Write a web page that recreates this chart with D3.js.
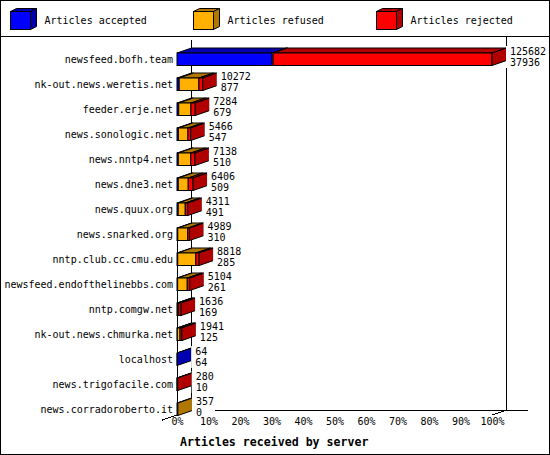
<!DOCTYPE html>
<html><head><meta charset="utf-8">
<script src="https://cdn.jsdelivr.net/npm/d3@7"></script>
<style>
body{margin:0;background:#fff}
svg{display:block}
text{font-family:"DejaVu Sans Mono",monospace;fill:#000}
</style></head><body>
<svg id="c" width="550" height="455"></svg>
<script>
const servers = ["newsfeed.bofh.team","nk-out.news.weretis.net","feeder.erje.net","news.sonologic.net","news.nntp4.net","news.dne3.net","news.quux.org","news.snarked.org","nntp.club.cc.cmu.edu","newsfeed.endofthelinebbs.com","nntp.comgw.net","nk-out.news.chmurka.net","localhost","news.trigofacile.com","news.corradoroberto.it"];
const totals   = [125682,10272,7284,5466,7138,6406,4311,4989,8818,5104,1636,1941,64,280,357];
const accepted = [37936,877,679,547,510,509,491,310,285,261,169,125,64,10,0];
const refused  = [400,7850,4880,3826,5000,3970,2800,4000,7230,3830,500,1070,0,0,357];
const rejected = [87346,1545,1725,1093,1628,1927,1020,679,1303,1013,967,746,0,270,0];
const seriesNames = ["Articles accepted","Articles refused","Articles rejected"];
const xTicks = [0,10,20,30,40,50,60,70,80,90,100];
const axisTitle = "Articles received by server";

const frontColors = ["#0000ff","#ffb000","#ff0000"];
const darkColors  = ["#0000b0","#b07800","#b00000"];

const svg = d3.select("#c");
const W = 550, H = 455;
const dx = 14.5, dy = -5;
const x = d3.scaleLinear().domain([0,100]).range([177,492]);
const y = d3.scaleBand().domain(servers).range([46,421]);
const maxTotal = d3.max(totals);
const pct = v => v / maxTotal * 100;
const barOff = 7, barH = 12.5;
const floorFront = 415, floorBack = floorFront + dy;

// frame
svg.append("rect").attr("x",0.5).attr("y",0.5).attr("width",W-1).attr("height",H-1)
  .attr("fill","#fff").attr("stroke","#000");
svg.append("line").attr("x1",0).attr("x2",W).attr("y1",36.5).attr("y2",36.5).attr("stroke","#000");

// legend
const legX = [10.5,193.5,376.5];
seriesNames.forEach((n,i)=>{
  const g = svg.append("g").attr("transform",`translate(${legX[i]},11.5)`);
  const w=20,h=18,ldx=6,ldy=-3;
  g.append("path").attr("d",`M0,0L${w},0L${w+ldx},${ldy}L${ldx},${ldy}Z`).attr("fill",darkColors[i]).attr("stroke","#000");
  g.append("path").attr("d",`M${w},0L${w+ldx},${ldy}L${w+ldx},${h+ldy}L${w},${h}Z`).attr("fill",darkColors[i]).attr("stroke","#000");
  g.append("rect").attr("width",w).attr("height",h).attr("fill",frontColors[i]).attr("stroke","#000");
  g.append("text").attr("x",34).attr("y",12.5).attr("font-size",10).text(n);
});

// axes frame lines
const frame = svg.append("g").attr("stroke","#000").attr("fill","none").attr("shape-rendering","crispEdges");
frame.append("line").attr("x1",x(0)+dx).attr("x2",x(0)+dx).attr("y1",40).attr("y2",floorBack);
frame.append("line").attr("x1",x(100)+dx).attr("x2",x(100)+dx).attr("y1",36).attr("y2",floorBack);
frame.append("line").attr("x1",x(0)+dx).attr("x2",x(100)+dx+21).attr("y1",floorBack).attr("y2",floorBack);
frame.append("line").attr("x1",x(0)).attr("x2",x(0)).attr("y1",240).attr("y2",floorFront);
const slope = dy/dx;
frame.append("line").attr("x1",x(0)-15).attr("y1",floorFront-slope*15).attr("x2",x(0)+dx).attr("y2",floorBack);
frame.append("line").attr("x1",x(100)).attr("y1",floorFront).attr("x2",x(100)+dx).attr("y2",floorBack);

// bars
const bars = svg.append("g");
servers.forEach((s,i)=>{
  const vals = [accepted[i],refused[i],rejected[i]];
  const g = bars.append("g");
  const yt = y(s)+barOff, yb = yt+barH;
  let cum = 0, last = -1;
  vals.forEach((v,k)=>{
    if(v<=0) return;
    const x0 = x(pct(cum)), x1 = x(pct(cum+v));
    g.append("path").attr("d",`M${x0},${yt}L${x1},${yt}L${x1+dx},${yt+dy}L${x0+dx},${yt+dy}Z`)
      .attr("fill",darkColors[k]).attr("stroke","#000");
    g.append("rect").attr("x",x0).attr("y",yt).attr("width",Math.max(0,x1-x0)).attr("height",barH)
      .attr("fill",frontColors[k]).attr("stroke","#000");
    cum += v; last = k;
  });
  const xe = x(pct(cum));
  if(last>=0){
    g.append("path").attr("d",`M${xe},${yt}L${xe+dx},${yt+dy}L${xe+dx},${yb+dy}L${xe},${yb}Z`)
      .attr("fill",darkColors[last]).attr("stroke","#000");
  }
  // value labels
  const lx = x(pct(totals[i]))+dx+3.5;
  const lg = svg.append("g");
  const bg = lg.append("rect").attr("fill","#fff");
  const t1 = lg.append("text").attr("x",lx).attr("y",yt+2).attr("font-size",10).text(totals[i]);
  const t2 = lg.append("text").attr("x",lx).attr("y",yt+13).attr("font-size",10).text(accepted[i]);
  const w = Math.max(t1.node().getComputedTextLength(), t2.node().getComputedTextLength());
  bg.attr("x",lx-4).attr("y",yt-7).attr("width",w+5).attr("height",22);
});

// y axis labels
const yAxis = svg.append("g").attr("transform","translate(176,1.5)")
  .call(d3.axisLeft(y).tickSize(0).tickPadding(3));
yAxis.select(".domain").remove();
yAxis.selectAll("text").attr("font-family","DejaVu Sans Mono").attr("font-size",10).attr("fill","#000");

// x axis labels
const xAxis = svg.append("g").attr("transform",`translate(0,${floorFront})`)
  .call(d3.axisBottom(x).tickValues(xTicks).tickSize(0).tickPadding(3).tickFormat(d=>d+"%"));
xAxis.select(".domain").remove();
xAxis.selectAll("text").attr("font-family","DejaVu Sans Mono").attr("font-size",10).attr("fill","#000");

svg.append("text").attr("x",180).attr("y",446).attr("font-size",11.6).attr("font-weight","bold").text(axisTitle);
</script>
</body></html>
